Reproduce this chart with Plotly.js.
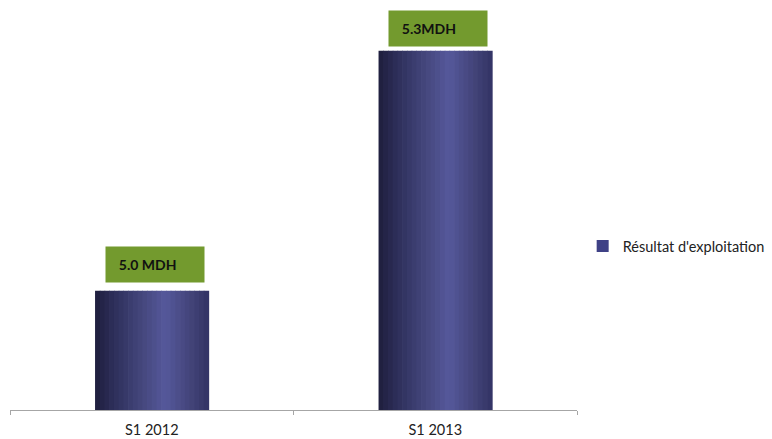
<!DOCTYPE html>
<html>
<head>
<meta charset="utf-8">
<script src="https://cdn.plot.ly/plotly-3.0.1.min.js"></script>
<style>html,body{margin:0;padding:0;background:#fff;}#chart{width:772px;height:439px;}</style>
</head>
<body>
<div id="chart"></div>
<script>
// Data
var categories = ["S1 2012", "S1 2013"];
var values = [5.0, 5.3];
var valueLabels = ["5.0 MDH", "5.3MDH"];
var seriesName = "Résultat d'exploitation";

// Style: horizontal shading of the bars simulated by thin overlaid slices
var barWidth = 0.4;
var nSlices = 24;
var stops = [
  [0.0, [30, 30, 60]],
  [0.15, [44, 45, 88]],
  [0.45, [72, 74, 130]],
  [0.62, [85, 88, 155]],
  [0.85, [66, 67, 120]],
  [1.0, [50, 51, 100]]
];
function colorAt(t) {
  for (var i = 0; i < stops.length - 1; i++) {
    var a = stops[i], b = stops[i + 1];
    if (t >= a[0] && t <= b[0]) {
      var f = (t - a[0]) / (b[0] - a[0]);
      var c = a[1].map(function (v, k) { return Math.round(v + (b[1][k] - v) * f); });
      return "rgb(" + c.join(",") + ")";
    }
  }
  return "rgb(50,51,100)";
}

var traces = [];
var sw = barWidth / nSlices;
for (var s = 0; s < nSlices; s++) {
  traces.push({
    type: "bar",
    x: categories,
    y: values,
    base: 0,
    width: sw * 1.15,
    offset: -barWidth / 2 + s * sw,
    marker: { color: colorAt((s + 0.5) / nSlices), line: { width: 0 } },
    showlegend: false,
    hoverinfo: "skip"
  });
}
// legend entry
traces.push({
  type: "bar",
  x: categories,
  y: values.map(function () { return null; }),
  name: seriesName,
  marker: { color: "#3f4186" },
  showlegend: true
});

var labelGaps = [8, 4];
var annotations = categories.map(function (c, i) {
  return {
    x: c,
    y: values[i],
    xref: "x",
    yref: "y",
    text: "&nbsp;&nbsp;" + valueLabels[i],
    showarrow: false,
    xanchor: "center",
    yanchor: "bottom",
    xshift: 3,
    yshift: labelGaps[i],
    width: 86,
    height: 23,
    align: "left",
    bgcolor: "#739a2e",
    borderpad: 6,
    font: { family: "Lato, 'Open Sans', sans-serif", size: 14, color: "#111", weight: "bold" }
  };
});

var layout = {
  width: 772,
  height: 439,
  margin: { l: 10, r: 195, t: 0, b: 29 },
  paper_bgcolor: "#ffffff",
  plot_bgcolor: "#ffffff",
  barmode: "overlay",
  bargap: 0.6,
  font: { family: "Lato, 'Open Sans', sans-serif", size: 14, color: "#222" },
  xaxis: {
    type: "category",
    showline: true,
    linecolor: "#a6a6a6",
    linewidth: 1,
    ticks: "outside",
    tickson: "boundaries",
    ticklen: 4,
    tickcolor: "#a6a6a6",
    ticklabelstandoff: 7,
    showgrid: false,
    zeroline: false,
    tickfont: { family: "Lato, 'Open Sans', sans-serif", size: 14.5, color: "#222" }
  },
  yaxis: {
    visible: false,
    range: [4.851, 5.3635],
    showgrid: false,
    zeroline: false
  },
  showlegend: true,
  legend: {
    x: 1.01,
    y: 0.40,
    xanchor: "left",
    yanchor: "middle",
    itemwidth: 30,
    font: { family: "Lato, 'Open Sans', sans-serif", size: 14.5, color: "#222" }
  },
  annotations: annotations
};

Plotly.newPlot("chart", traces, layout, { displayModeBar: false, staticPlot: true });
</script>
</body>
</html>
